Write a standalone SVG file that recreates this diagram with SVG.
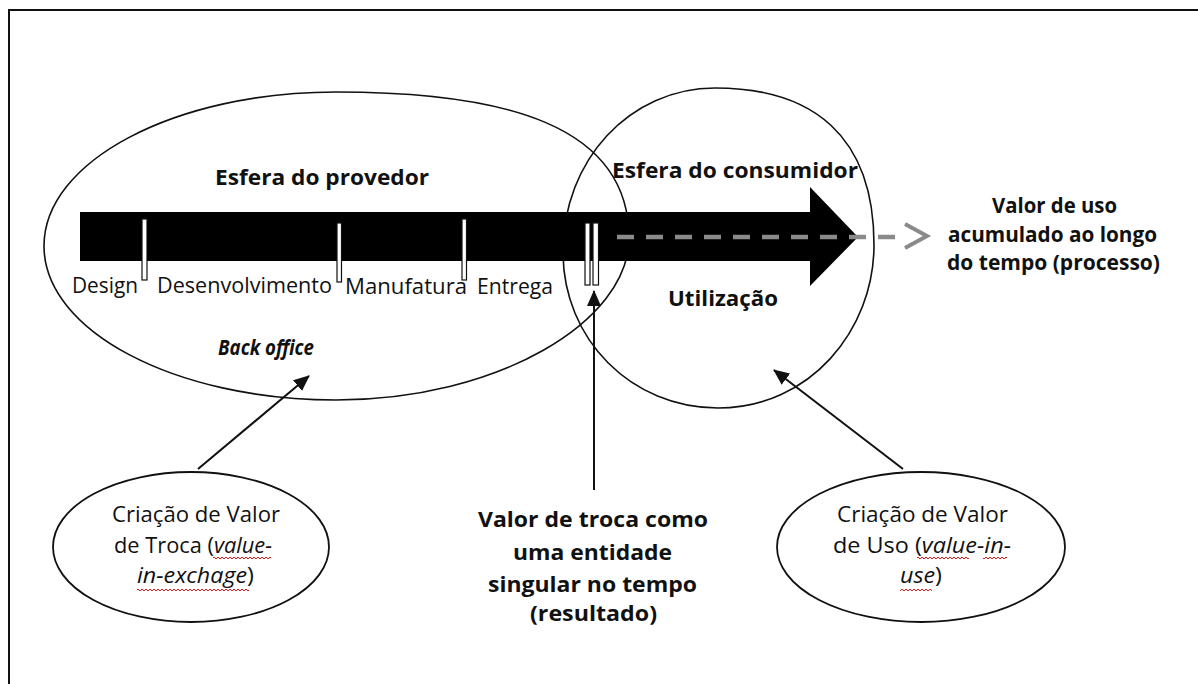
<svg xmlns="http://www.w3.org/2000/svg" width="1198" height="684" viewBox="0 0 1198 684">
<style>
.t{font-family:"Open Sans","Liberation Sans",sans-serif;font-size:21px;fill:#111;}
.b{font-weight:bold;}
.i{font-style:italic;}
.shape{fill:none;stroke:#111;stroke-width:1.6;}
.bub{fill:#fff;stroke:#111;stroke-width:1.8;}
.tick{fill:#fff;stroke:#111;stroke-width:1.2;}
.conn{stroke:#111;stroke-width:2;fill:none;marker-end:url(#ah);}
.wave{fill:url(#wv);}
</style>
<defs>
<marker id="ah" markerUnits="userSpaceOnUse" markerWidth="16" markerHeight="14" viewBox="0 0 16 14" refX="15" refY="7" orient="auto">
<path d="M0,0 L16,7 L0,14 Z" fill="#111"/>
</marker>
<pattern id="wv" patternUnits="userSpaceOnUse" width="4" height="4" x="0" y="0">
<path d="M0,3 L2,1 L4,3" fill="none" stroke="#e02020" stroke-width="1"/>
</pattern>
</defs>
<rect width="1198" height="684" fill="#fff"/>
<g id="frame">
<path d="M9,684 L9,10 L1198,10" fill="none" stroke="#111" stroke-width="2"/>
</g>
<g id="provider-sphere">
<path class="shape" d="M336,92 C505,92 629,125 629,238 C629,322 497,400 336,400 C175,400 44,331 44,246 C44,161 175,92 336,92 Z"/>
</g>
<g id="consumer-sphere">
<path class="shape" d="M715,88 C812,88 874,135 874,245 C874,330 810,408 718,408 C632,408 563,340 563,252 C563,160 630,88 715,88 Z"/>
</g>
<g id="timeline-arrow">
<path d="M80,212 L810,212 L810,187 L858,237 L810,286 L810,261 L80,261 Z" fill="#000"/>
<rect class="tick" x="142" y="219" width="5" height="61"/>
<rect class="tick" x="337" y="223" width="4.5" height="59"/>
<rect class="tick" x="462" y="219" width="4.5" height="61"/>
<rect class="tick" x="585" y="223" width="5" height="62"/>
<rect class="tick" x="593" y="223" width="5.5" height="62"/>
</g>
<g id="dashed-arrow">
<line x1="617" y1="237" x2="895" y2="237" stroke="#8a8a8a" stroke-width="4.5" stroke-dasharray="17 12"/>
<polyline points="905,224 927,236 905,248" fill="none" stroke="#8a8a8a" stroke-width="4"/>
</g>
<g id="labels">
<text class="t b" x="215" y="185" textLength="214" lengthAdjust="spacingAndGlyphs">Esfera do provedor</text>
<text class="t b" x="612" y="178" textLength="246" lengthAdjust="spacingAndGlyphs">Esfera do consumidor</text>
<text class="t" x="72" y="293" textLength="66" lengthAdjust="spacingAndGlyphs">Design</text>
<text class="t" x="157" y="293" textLength="175" lengthAdjust="spacingAndGlyphs">Desenvolvimento</text>
<text class="t" x="345" y="294" textLength="122" lengthAdjust="spacingAndGlyphs">Manufatura</text>
<text class="t" x="477" y="294" textLength="76" lengthAdjust="spacingAndGlyphs">Entrega</text>
<text class="t b i" x="218" y="355" textLength="96" lengthAdjust="spacingAndGlyphs">Back office</text>
<text class="t b" x="668" y="306" textLength="110" lengthAdjust="spacingAndGlyphs">Utilização</text>
</g>
<g id="process-label">
<text class="t b" x="992" y="213" textLength="125" lengthAdjust="spacingAndGlyphs">Valor de uso</text>
<text class="t b" x="948" y="242" textLength="209" lengthAdjust="spacingAndGlyphs">acumulado ao longo</text>
<text class="t b" x="947" y="270" textLength="213" lengthAdjust="spacingAndGlyphs">do tempo (processo)</text>
</g>
<g id="result-label">
<text class="t b" x="478" y="527" textLength="230" lengthAdjust="spacingAndGlyphs">Valor de troca como</text>
<text class="t b" x="513" y="560" textLength="159" lengthAdjust="spacingAndGlyphs">uma entidade</text>
<text class="t b" x="488" y="592" textLength="209" lengthAdjust="spacingAndGlyphs">singular no tempo</text>
<text class="t b" x="530" y="621" textLength="127" lengthAdjust="spacingAndGlyphs">(resultado)</text>
</g>
<g id="exchange-value">
<ellipse class="bub" cx="191" cy="547" rx="138" ry="75"/>
<text class="t" x="112" y="522" textLength="168" lengthAdjust="spacingAndGlyphs">Criação de Valor</text>
<text class="t" x="114" y="553" textLength="158" lengthAdjust="spacingAndGlyphs">de Troca (<tspan class="i">value-</tspan></text>
<text class="t" x="137" y="583" textLength="117" lengthAdjust="spacingAndGlyphs"><tspan class="i">in-exchage</tspan>)</text>
<rect class="wave" x="213" y="557" width="58" height="4"/>
<rect class="wave" x="137" y="587" width="112" height="4"/>
</g>
<g id="use-value">
<ellipse class="bub" cx="921" cy="547" rx="144" ry="75"/>
<text class="t" x="837" y="522" textLength="171" lengthAdjust="spacingAndGlyphs">Criação de Valor</text>
<text class="t" x="833" y="553" textLength="178" lengthAdjust="spacingAndGlyphs">de Uso (<tspan class="i">value-in-</tspan></text>
<text class="t" x="900" y="583" textLength="42" lengthAdjust="spacingAndGlyphs"><tspan class="i">use</tspan>)</text>
<rect class="wave" x="917" y="557" width="52" height="4"/>
<rect class="wave" x="983" y="557" width="24" height="4"/>
<rect class="wave" x="900" y="587" width="32" height="4"/>
</g>
<g id="connectors">
<line class="conn" x1="198" y1="469" x2="309" y2="376"/>
<line class="conn" x1="594" y1="490" x2="594" y2="291"/>
<line class="conn" x1="903" y1="469" x2="774" y2="370"/>
</g>
</svg>
